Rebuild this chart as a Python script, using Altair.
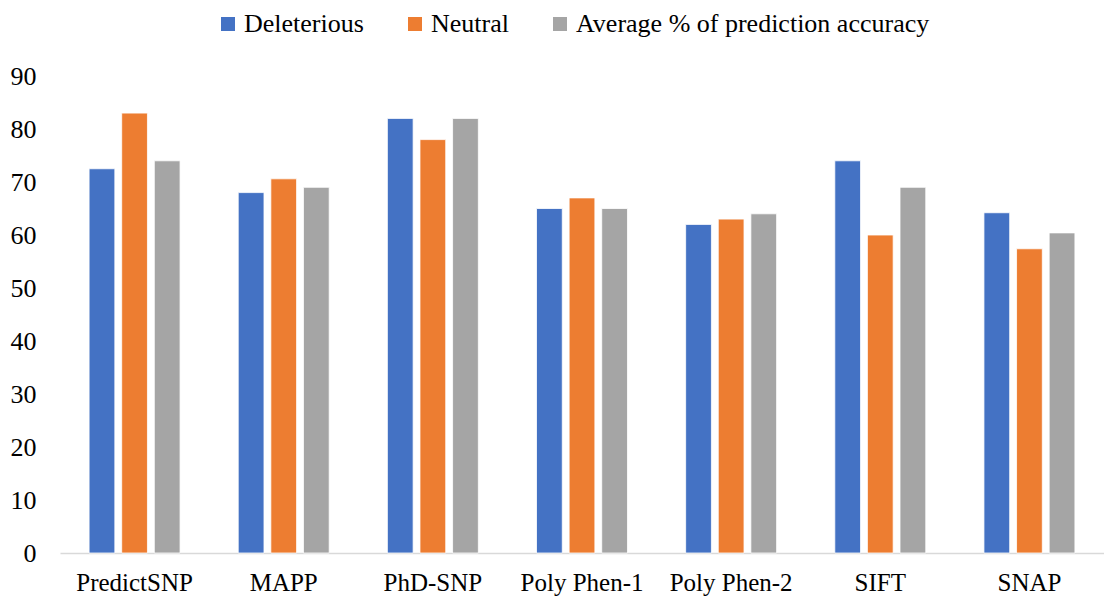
import altair as alt
import pandas as pd

categories = ["PredictSNP", "MAPP", "PhD-SNP", "Poly Phen-1", "Poly Phen-2", "SIFT", "SNAP"]
series = ["Deleterious", "Neutral", "Average % of prediction accuracy"]
deleterious = [72.5, 68, 82, 65, 62, 74, 64.2]
neutral = [83, 70.6, 78, 67, 63, 60, 57.4]
average = [74, 69, 82, 65, 64, 69, 60.4]
colors = ["#4472C4", "#ED7D31", "#A5A5A5"]

rows = []
for i, c in enumerate(categories):
    for s, vals in zip(series, [deleterious, neutral, average]):
        rows.append({"tool": c, "series": s, "value": vals[i]})
df = pd.DataFrame(rows)

font = "Liberation Serif"

chart = alt.Chart(df).mark_bar(stroke="white", strokeWidth=0.8).encode(
    x=alt.X("tool:N", sort=categories,
            scale=alt.Scale(paddingInner=0.39, paddingOuter=0.195),
            axis=alt.Axis(title=None, labelAngle=0, labelFont=font, labelFontSize=25,
                          labelColor="#000000", labelPadding=17, ticks=False,
                          domainColor="#D9D9D9", domainWidth=1.5, grid=False)),
    xOffset=alt.XOffset("series:N", sort=series, scale=alt.Scale(paddingInner=0.21)),
    y=alt.Y("value:Q", scale=alt.Scale(domain=[0, 90]),
            axis=alt.Axis(title=None, values=list(range(0, 100, 10)), labelFont=font,
                          labelFontSize=26, labelColor="#000000", labelPadding=24,
                          ticks=False, domain=False, grid=False)),
    color=alt.Color("series:N", sort=series,
                    scale=alt.Scale(domain=series, range=colors),
                    legend=alt.Legend(title=None, orient="none", direction="horizontal",
                                      legendX=155, legendY=-65, symbolType="square",
                                      symbolSize=196, symbolStrokeWidth=0,
                                      labelFont=font, labelFontSize=26, labelColor="#000000",
                                      labelOffset=3, columnPadding=38, labelLimit=600)),
).properties(
    width=1044, height=477,
    autosize=alt.AutoSizeParams(type="none"),
    padding={"left": 60, "top": 76, "right": 0, "bottom": 44},
).configure_view(stroke=None)

chart.save("out.html", embed_options={"renderer": "svg", "actions": False})
